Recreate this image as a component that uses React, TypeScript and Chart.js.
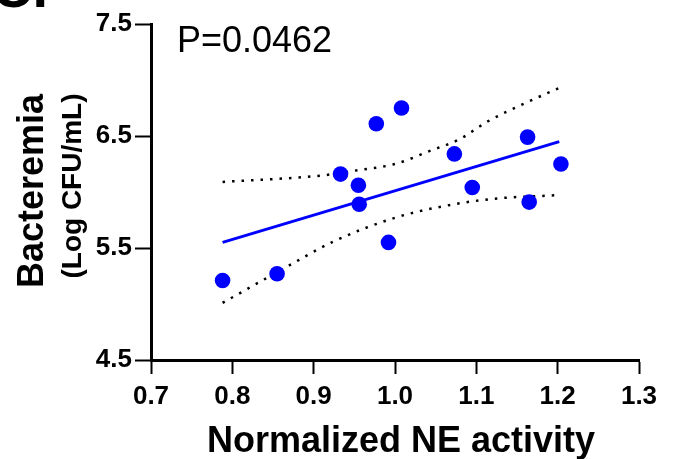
import React, { useEffect, useRef } from "react";
import { Chart, registerables } from "chart.js";

Chart.register(...registerables);

// Observed data points
const neActivity = [0.788, 0.855, 0.933, 0.955, 0.956, 0.977, 1.008, 0.992, 1.073, 1.095, 1.163, 1.165, 1.204];
const bacteremia = [5.21, 5.27, 6.16, 6.06, 5.89, 6.61, 6.75, 5.55, 6.34, 6.04, 6.49, 5.91, 6.25];

// Regression line end points
const fitX = [0.788, 1.202];
const fitY = [5.55, 6.45];

// 95% confidence band
const upperX = [0.788, 0.913, 0.95, 1.0, 1.044, 1.079, 1.114, 1.159, 1.202];
const upperY = [6.09, 6.15, 6.19, 6.25, 6.37, 6.47, 6.63, 6.79, 6.93];
const lowerX = [0.788, 0.864, 0.925, 1.0, 1.061, 1.122, 1.196];
const lowerY = [5.01, 5.32, 5.56, 5.77, 5.875, 5.94, 5.97];

const xTicks = [0.7, 0.8, 0.9, 1.0, 1.1, 1.2, 1.3];
const yTicks = [4.5, 5.5, 6.5, 7.5];

const pValueText = "P=0.0462";
const xTitle = "Normalized NE activity";
const yTitle = "Bacteremia";
const ySubTitle = "(Log CFU/mL)";
const panelLetter = "C.";

const FONT = '"Liberation Sans", Arial, sans-serif';

const toXY = (xs: number[], ys: number[]) => xs.map((x, i) => ({ x, y: ys[i] }));

export default function App() {
  const ref = useRef<HTMLCanvasElement | null>(null);

  useEffect(() => {
    if (!ref.current) return;
    const textPlugin = {
      id: "textPlugin",
      afterDraw(chart: any) {
        const ctx = chart.ctx;
        ctx.save();
        ctx.fillStyle = "#000";
        // panel letter (cut off at top)
        ctx.font = `bold 56px ${FONT}`;
        ctx.textAlign = "left";
        ctx.textBaseline = "alphabetic";
        ctx.fillText(panelLetter, -8, 7);
        // P value
        ctx.font = `36px ${FONT}`;
        ctx.fillText(pValueText, 177, 52);
        // x title
        ctx.font = `bold 36px ${FONT}`;
        ctx.textAlign = "center";
        ctx.fillText(xTitle, 401, 452);
        // y titles
        ctx.save();
        ctx.translate(43, 191);
        ctx.rotate(-Math.PI / 2);
        ctx.font = `bold 36px ${FONT}`;
        ctx.fillText(yTitle, 0, 0);
        ctx.restore();
        ctx.save();
        ctx.translate(81, 186);
        ctx.rotate(-Math.PI / 2);
        ctx.font = `bold 28px ${FONT}`;
        ctx.fillText(ySubTitle, 0, 0);
        ctx.restore();
        ctx.restore();
      },
    };

    const chart = new Chart(ref.current, {
      type: "scatter",
      data: {
        datasets: [
          {
            data: toXY(upperX, upperY),
            showLine: true,
            borderColor: "#000",
            borderWidth: 2.5,
            borderDash: [2.5, 7],
            pointRadius: 0,
            cubicInterpolationMode: "monotone",
            order: 3,
          },
          {
            data: toXY(lowerX, lowerY),
            showLine: true,
            borderColor: "#000",
            borderWidth: 2.5,
            borderDash: [2.5, 7],
            pointRadius: 0,
            cubicInterpolationMode: "monotone",
            order: 3,
          },
          {
            data: toXY(fitX, fitY),
            showLine: true,
            borderColor: "#0000ff",
            borderWidth: 3,
            pointRadius: 0,
            order: 2,
          },
          {
            data: toXY(neActivity, bacteremia),
            showLine: false,
            backgroundColor: "#0000ff",
            borderColor: "#0000ff",
            borderWidth: 0,
            pointRadius: 7.8,
            order: 1,
          },
        ],
      },
      options: {
        responsive: false,
        animation: false,
        devicePixelRatio: 1,
        layout: { padding: { top: 24, right: 37, left: 0, bottom: 0 } },
        plugins: {
          legend: { display: false },
          tooltip: { enabled: false },
        },
        scales: {
          x: {
            type: "linear",
            min: 0.7,
            max: 1.3,
            afterBuildTicks: (scale: any) => {
              scale.ticks = xTicks.map((v) => ({ value: v }));
            },
            afterFit: (scale: any) => {
              scale.height = 99;
            },
            ticks: {
              color: "#000",
              font: { family: FONT, size: 26, weight: "bold" },
              padding: 7,
              maxRotation: 0,
              callback: (v: any) => Number(v).toFixed(1),
            },
            grid: {
              drawOnChartArea: false,
              drawTicks: true,
              tickLength: 14,
              tickWidth: 2,
              tickColor: "#000",
              color: "#000",
            },
            border: { display: true, color: "#000", width: 3 },
          },
          y: {
            type: "linear",
            min: 4.5,
            max: 7.5,
            afterBuildTicks: (scale: any) => {
              scale.ticks = yTicks.map((v) => ({ value: v }));
            },
            afterFit: (scale: any) => {
              scale.width = 151;
            },
            ticks: {
              color: "#000",
              font: { family: FONT, size: 26, weight: "bold" },
              padding: 3,
              callback: (v: any) => Number(v).toFixed(1),
            },
            grid: {
              drawOnChartArea: false,
              drawTicks: true,
              tickLength: 16,
              tickWidth: 2,
              tickColor: "#000",
              color: "#000",
            },
            border: { display: true, color: "#000", width: 3 },
          },
        },
      },
      plugins: [textPlugin],
    } as any);
    return () => chart.destroy();
  }, []);

  return (
    <div style={{ position: "absolute", left: 0, top: 0, width: 676, height: 459, background: "#fff" }}>
      <canvas ref={ref} width={676} height={459} style={{ display: "block" }} />
    </div>
  );
}
